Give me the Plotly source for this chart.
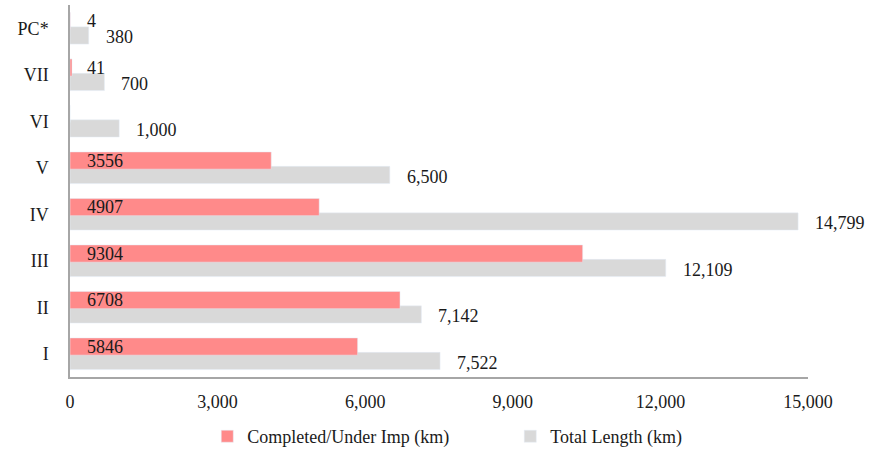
import plotly.graph_objects as go

categories = ["I", "II", "III", "IV", "V", "VI", "VII", "PC*"]
completed_bar = [5846, 6708, 10420, 5065, 4090, 0, 41, 4]
completed_labels = ["5846", "6708", "9304", "4907", "3556", "", "41", "4"]
total_length = [7522, 7142, 12109, 14799, 6500, 1000, 700, 380]
x_ticks = [0, 3000, 6000, 9000, 12000, 15000]

FONT = "Liberation Serif"
FS = 18
TXT = "#1a1a1a"
RED = "#FF8A8A"
GREY = "#D9D9D9"
AXIS = "#A6A6A6"

ypos = list(range(len(categories)))

fig = go.Figure()
fig.add_trace(go.Bar(
    y=ypos, x=total_length, orientation="h", name="Total Length (km)",
    marker=dict(color=GREY), width=0.37, offset=-0.34, legendrank=2,
))
fig.add_trace(go.Bar(
    y=ypos, x=completed_bar, orientation="h", name="Completed/Under Imp (km)",
    marker=dict(color=RED), width=0.37, offset=-0.03, legendrank=1,
))

annotations = []
for i, (lab, tot) in enumerate(zip(completed_labels, total_length)):
    if lab:
        annotations.append(dict(
            x=0, y=i + 0.155, xref="x", yref="y", text=lab, showarrow=False,
            xanchor="left", yanchor="middle", xshift=15,
            font=dict(family=FONT, size=FS, color=TXT),
        ))
    annotations.append(dict(
        x=tot, y=i - 0.155, xref="x", yref="y", text=f"{tot:,}", showarrow=False,
        xanchor="left", yanchor="middle", xshift=15, yshift=-2,
        font=dict(family=FONT, size=FS, color=TXT),
    ))

fig.update_layout(
    width=884, height=449,
    margin=dict(l=70, r=76, t=5, b=72, autoexpand=False),
    paper_bgcolor="white", plot_bgcolor="white",
    barmode="overlay",
    font=dict(family=FONT, size=FS, color=TXT),
    showlegend=True,
    legend=dict(
        orientation="h", x=0.186, xanchor="left", y=-0.16, yanchor="middle",
        font=dict(family=FONT, size=FS, color=TXT),
        traceorder="normal", entrywidth=258, entrywidthmode="pixels",
    ),
    annotations=annotations,
    xaxis=dict(
        range=[0, 15000], tickvals=x_ticks, tickformat=",",
        showgrid=False, zeroline=False, showline=True, linecolor=AXIS, linewidth=1.5,
        ticks="", ticklabelstandoff=8,
    ),
    yaxis=dict(
        range=[-0.5, 7.5], tickvals=ypos, ticktext=categories,
        showgrid=False, zeroline=False, showline=True, linecolor=AXIS, linewidth=1.5,
        ticks="", ticklabelstandoff=16,
    ),
)

fig.write_html("out.html")
